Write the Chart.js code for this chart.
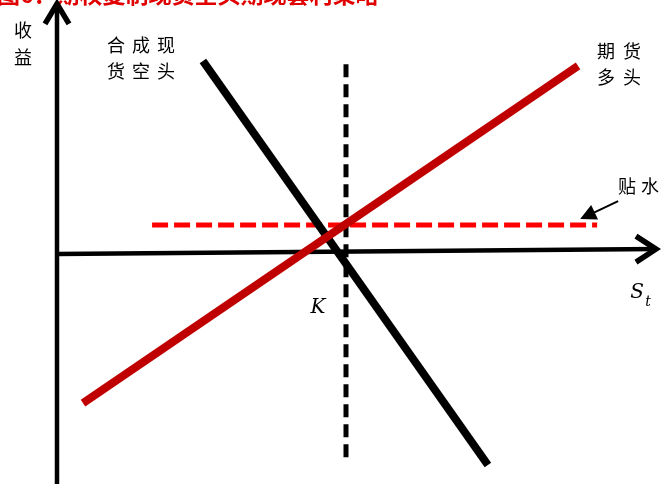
<!DOCTYPE html>
<html>
<head>
<meta charset="utf-8">
<script src="https://cdn.jsdelivr.net/npm/chart.js@4/dist/chart.umd.min.js"></script>
<style>
html, body { margin: 0; padding: 0; background: #fff; }
canvas { display: block; }
</style>
</head>
<body>
<canvas id="chart" width="662" height="484"></canvas>
<script>
// S on x (strike K = 100), payoff on y, both in the same units
var strike = 100;
var spotShortS = [50.5, 149.1];
var spotShortPayoff = [66.8, -73.0];
var futuresLongS = [9.0, 180.3];
var futuresLongPayoff = [-51.6, 65.1];
var discountS = [32.9, 186.9];
var discountLevel = 10.0;
var strikePayoff = [65.7, -71.6];
var xAxisS = [0, 207.6];
var xAxisPayoff = [0, 1.7];
var yAxisPayoff = [-79.6, 86.9];
var sRange = [-19.72, 209.34];
var payoffRange = [-79.58, 87.89];

var title = '图6：期权复制现货空头期现套利策略';
var spotShortLabel = ['合成现', '货空头'];
var futuresLongLabel = ['期货', '多头'];
var discountLabel = '贴水';
var yAxisLabel = '收益';

function pts(xs, ys) {
    var res = [];
    for (var i = 0; i < xs.length; ++i) {
        res.push({x: xs[i], y: ys[i]});
    }
    return res;
}

var CJK = '"Noto Sans CJK SC", sans-serif';

function drawChars(ctx, text, x, y, step) {
    for (var i = 0; i < text.length; ++i) {
        ctx.fillText(text.charAt(i), x + i * step, y);
    }
}

var decorations = {
    id: 'decorations',
    afterDatasetsDraw: function(chart) {
        var ctx = chart.ctx;
        var xs = chart.scales.x, ys = chart.scales.y;
        ctx.save();

        // title, clipped at the top edge like the source
        ctx.fillStyle = '#e00000';
        ctx.font = 'bold 23px ' + CJK;
        ctx.textBaseline = 'middle';
        ctx.textAlign = 'left';
        ctx.fillText(title, -3, -6);

        // axis arrowheads
        ctx.strokeStyle = '#000';
        ctx.lineWidth = 5.5;
        ctx.lineJoin = 'miter';
        var tx = xs.getPixelForValue(0), ty = ys.getPixelForValue(yAxisPayoff[1]);
        ctx.beginPath();
        ctx.moveTo(tx - 12, ty + 21);
        ctx.lineTo(tx, ty + 1);
        ctx.lineTo(tx + 12, ty + 21);
        ctx.stroke();
        var rx = xs.getPixelForValue(xAxisS[1]), ry = ys.getPixelForValue(xAxisPayoff[1]);
        ctx.beginPath();
        ctx.moveTo(rx - 21, ry - 13);
        ctx.lineTo(rx - 1, ry);
        ctx.lineTo(rx - 21, ry + 13);
        ctx.stroke();

        // pointer to the discount line
        var ex = xs.getPixelForValue(discountS[1]) - 17, ey = ys.getPixelForValue(discountLevel) - 6;
        var sx = ex + 38, sy = ey - 18;
        var len = Math.sqrt((sx - ex) * (sx - ex) + (sy - ey) * (sy - ey));
        var ux = (sx - ex) / len, uy = (sy - ey) / len;
        ctx.lineWidth = 2;
        ctx.beginPath();
        ctx.moveTo(sx, sy);
        ctx.lineTo(ex + ux * 10, ey + uy * 10);
        ctx.stroke();
        ctx.fillStyle = '#000';
        ctx.beginPath();
        ctx.moveTo(ex, ey);
        ctx.lineTo(ex + ux * 16 - uy * 8, ey + uy * 16 + ux * 8);
        ctx.lineTo(ex + ux * 16 + uy * 8, ey + uy * 16 - ux * 8);
        ctx.closePath();
        ctx.fill();

        // labels
        ctx.fillStyle = '#000';
        ctx.textAlign = 'center';
        ctx.font = '18px ' + CJK;
        ctx.fillText(yAxisLabel.charAt(0), 23, 30);
        ctx.fillText(yAxisLabel.charAt(1), 23, 57);
        drawChars(ctx, spotShortLabel[0], 116, 45, 25);
        drawChars(ctx, spotShortLabel[1], 116, 71, 25);
        drawChars(ctx, futuresLongLabel[0], 606, 51, 26);
        drawChars(ctx, futuresLongLabel[1], 606, 77, 26);
        drawChars(ctx, discountLabel, 627, 186, 23);

        ctx.font = 'italic 20px "DejaVu Serif", serif';
        ctx.fillText('K', xs.getPixelForValue(strike) - 28, 308);
        ctx.fillText('S', 637, 293);
        ctx.font = 'italic 14px "DejaVu Serif", serif';
        ctx.fillText('t', 648, 302);
        ctx.restore();
    }
};

new Chart(document.getElementById('chart'), {
    type: 'scatter',
    data: {
        datasets: [{
            label: '期货多头',
            data: pts(futuresLongS, futuresLongPayoff),
            showLine: true,
            borderColor: '#c00000',
            borderWidth: 8,
            pointRadius: 0,
            order: 0
        }, {
            label: '合成现货空头',
            data: pts(spotShortS, spotShortPayoff),
            showLine: true,
            borderColor: '#000',
            borderWidth: 8,
            pointRadius: 0,
            order: 1
        }, {
            label: '贴水',
            data: pts(discountS, [discountLevel, discountLevel]),
            showLine: true,
            borderColor: '#ff0000',
            borderWidth: 5,
            borderDash: [16, 6],
            pointRadius: 0,
            order: 2
        }, {
            label: 'K',
            data: pts([strike, strike], strikePayoff),
            showLine: true,
            borderColor: '#000',
            borderWidth: 5,
            borderDash: [13, 7],
            pointRadius: 0,
            order: 3
        }, {
            label: 'S',
            data: pts(xAxisS, xAxisPayoff),
            showLine: true,
            borderColor: '#000',
            borderWidth: 4.5,
            pointRadius: 0,
            order: 4
        }, {
            label: '收益',
            data: pts([0, 0], yAxisPayoff),
            showLine: true,
            borderColor: '#000',
            borderWidth: 4.5,
            pointRadius: 0,
            order: 4
        }]
    },
    options: {
        responsive: false,
        animation: false,
        layout: {padding: 0},
        plugins: {
            legend: {display: false},
            tooltip: {enabled: false}
        },
        scales: {
            x: {type: 'linear', display: false, min: sRange[0], max: sRange[1]},
            y: {type: 'linear', display: false, min: payoffRange[0], max: payoffRange[1]}
        }
    },
    plugins: [decorations]
});
</script>
</body>
</html>
